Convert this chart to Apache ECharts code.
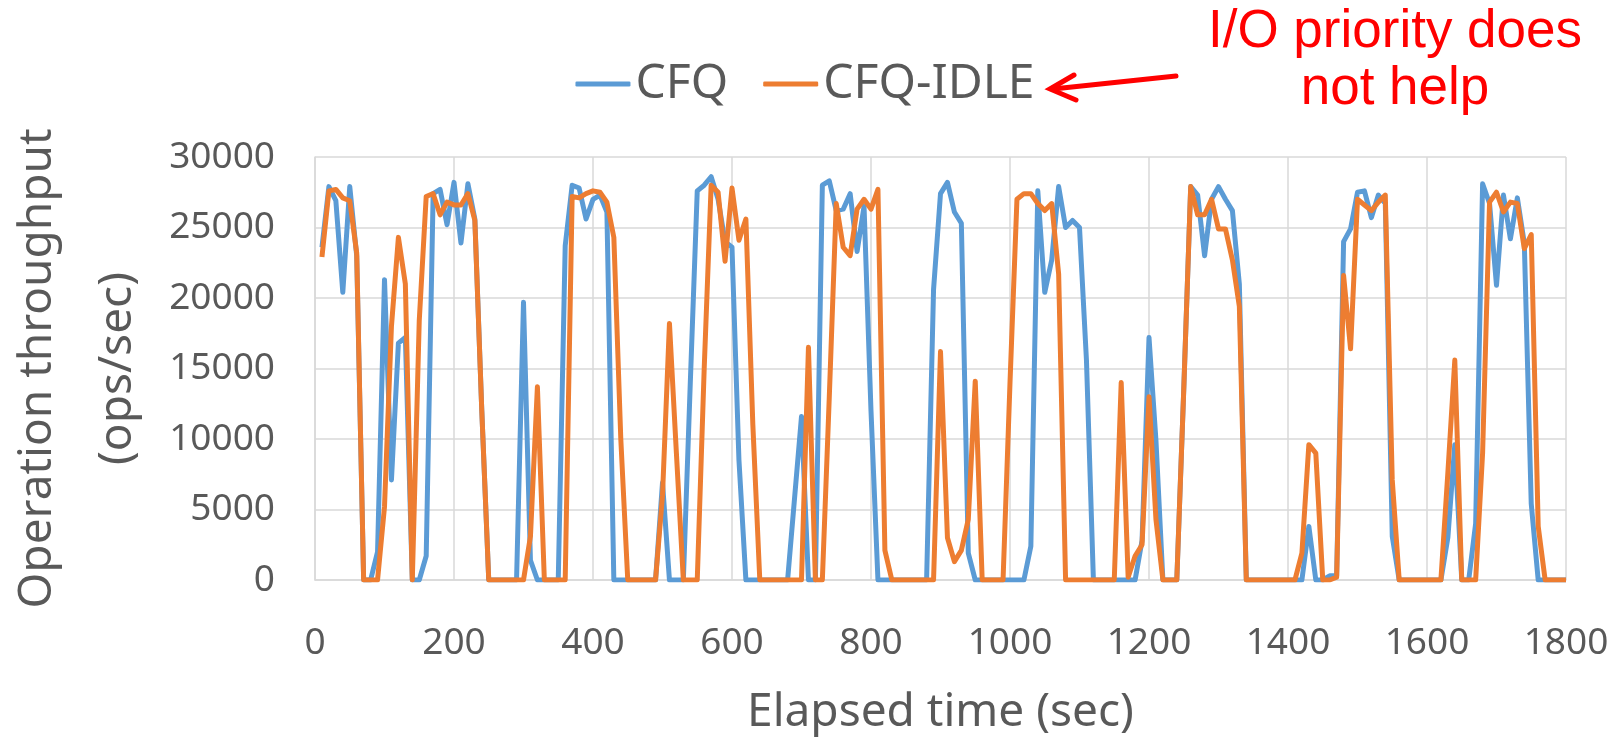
<!DOCTYPE html>
<html>
<head>
<meta charset="utf-8">
<title>CFQ vs CFQ-IDLE</title>
<script src="https://cdn.jsdelivr.net/npm/echarts@6/dist/echarts.min.js"></script>
<style>
  html, body { margin: 0; padding: 0; background: #fff; }
  #chart { width: 1610px; height: 738px; }
</style>
</head>
<body>
<div id="chart"></div>
<script>
// sample times (sec)
const times = [
  10, 20, 30, 40, 50, 60, 70, 80, 90, 100,
  110, 120, 130, 140, 150, 160, 170, 180, 190, 200,
  210, 220, 230, 240, 250, 260, 270, 280, 290, 300,
  310, 320, 330, 340, 350, 360, 370, 380, 390, 400,
  410, 420, 430, 440, 450, 460, 470, 480, 490, 500,
  510, 520, 530, 540, 550, 560, 570, 580, 590, 600,
  610, 620, 630, 640, 650, 660, 670, 680, 690, 700,
  710, 720, 730, 740, 750, 760, 770, 780, 790, 800,
  810, 820, 830, 840, 850, 860, 870, 880, 890, 900,
  910, 920, 930, 940, 950, 960, 970, 980, 990, 1000,
  1010, 1020, 1030, 1040, 1050, 1060, 1070, 1080, 1090, 1100,
  1110, 1120, 1130, 1140, 1150, 1160, 1170, 1180, 1190, 1200,
  1210, 1220, 1230, 1240, 1250, 1260, 1270, 1280, 1290, 1300,
  1310, 1320, 1330, 1340, 1350, 1360, 1370, 1380, 1390, 1400,
  1410, 1420, 1430, 1440, 1450, 1460, 1470, 1480, 1490, 1500,
  1510, 1520, 1530, 1540, 1550, 1560, 1570, 1580, 1590, 1600,
  1610, 1620, 1630, 1640, 1650, 1660, 1670, 1680, 1690, 1700,
  1710, 1720, 1730, 1740, 1750, 1760, 1770, 1780, 1790, 1800
];

// operation throughput (ops/sec)
const cfq = [
  23600, 27900, 26900, 20400, 27900, 23000, 0, 0, 2000, 21300,
  7100, 16800, 17200, 0, 0, 1700, 27400, 27700, 25200, 28200,
  23900, 28100, 25600, 12000, 0, 0, 0, 0, 0, 19700,
  1400, 0, 0, 0, 0, 23700, 28000, 27800, 25600, 27000,
  27300, 26100, 0, 0, 0, 0, 0, 0, 0, 6900,
  0, 0, 0, 14000, 27600, 28000, 28600, 27000, 24000, 23600,
  8500, 0, 0, 0, 0, 0, 0, 0, 5800, 11600,
  0, 0, 28000, 28300, 26200, 26300, 27400, 23300, 26500, 12000,
  0, 0, 0, 0, 0, 0, 0, 0, 20600, 27400,
  28200, 26100, 25300, 1900, 0, 0, 0, 0, 0, 0,
  0, 0, 2400, 27600, 20400, 22700, 27900, 25000, 25500, 25000,
  15600, 0, 0, 0, 0, 0, 0, 0, 2800, 17200,
  9900, 0, 0, 0, 13500, 27900, 27300, 23000, 27000, 27900,
  27000, 26200, 21000, 0, 0, 0, 0, 0, 0, 0,
  0, 0, 3800, 0, 0, 300, 300, 24000, 24900, 27500,
  27600, 25700, 27300, 26700, 3100, 0, 0, 0, 0, 0,
  0, 0, 3000, 9600, 0, 0, 4000, 28100, 26700, 20900,
  27300, 24200, 27100, 23900, 5400, 0, 0, 0, 0, 0
];

const cfqIdle = [
  22900, 27600, 27700, 27100, 26900, 23200, 0, 0, 0, 5200,
  18000, 24300, 21000, 0, 18400, 27200, 27400, 25900, 26800, 26600,
  26600, 27400, 25500, 12000, 0, 0, 0, 0, 0, 0,
  3100, 13700, 0, 0, 0, 0, 27200, 27100, 27400, 27600,
  27500, 26800, 24300, 10000, 0, 0, 0, 0, 0, 6000,
  18200, 9000, 0, 0, 0, 15000, 28000, 27500, 22600, 27800,
  24100, 25600, 11000, 0, 0, 0, 0, 0, 0, 0,
  16500, 0, 0, 13000, 26700, 23600, 23000, 26300, 27000, 26300,
  27700, 2100, 0, 0, 0, 0, 0, 0, 0, 16200,
  3000, 1300, 2100, 4300, 14100, 0, 0, 0, 0, 14000,
  27000, 27400, 27400, 26700, 26200, 26700, 21700, 0, 0, 0,
  0, 0, 0, 0, 0, 14000, 200, 1700, 2500, 13000,
  4300, 0, 0, 0, 13500, 27900, 25900, 25900, 27000, 24900,
  24900, 22700, 19400, 0, 0, 0, 0, 0, 0, 0,
  0, 1900, 9600, 9000, 0, 0, 200, 21600, 16400, 27000,
  26600, 26200, 26800, 27300, 7100, 0, 0, 0, 0, 0,
  0, 0, 7600, 15600, 0, 0, 0, 9000, 26800, 27500,
  26100, 26800, 26700, 23500, 24500, 3800, 0, 0, 0, 0
];

const seriesNames = ["CFQ", "CFQ-IDLE"];
const note = "I/O priority does\nnot help";

const textColor = "#595959";
const gridColor = "#D9D9D9";

const chart = echarts.init(document.getElementById("chart"), null, { renderer: "canvas" });

const option = {
  animation: false,
  color: ["#5B9BD5", "#ED7D31"],
  textStyle: { fontFamily: "Noto Sans" },
  grid: { left: 315, right: 44, top: 157, bottom: 158, outerBoundsMode: "none" },
  legend: {
    data: seriesNames,
    left: "center",
    top: 55,
    icon: "roundRect",
    itemWidth: 55,
    itemHeight: 5,
    itemGap: 35,
    textStyle: { fontSize: 48, color: textColor, fontFamily: "Noto Sans" }
  },
  xAxis: {
    type: "value",
    min: 0,
    max: 1800,
    interval: 200,
    name: "Elapsed time (sec)",
    nameLocation: "middle",
    nameGap: 110,
    nameTextStyle: { fontSize: 46, color: textColor },
    axisLine: { show: true, lineStyle: { color: gridColor, width: 1.5 } },
    axisTick: { show: false },
    axisLabel: { fontSize: 37, color: textColor, margin: 45, formatter: (v) => String(v) },
    splitLine: { show: true, lineStyle: { color: gridColor, width: 1.5 } }
  },
  yAxis: {
    type: "value",
    min: 0,
    max: 30000,
    interval: 5000,
    name: "Operation throughput\n(ops/sec)",
    nameLocation: "middle",
    nameRotate: 90,
    nameGap: 131,
    nameTextStyle: { fontSize: 46, color: textColor, lineHeight: 80 },
    axisLine: { show: true, lineStyle: { color: gridColor, width: 1.5 } },
    axisTick: { show: false },
    axisLabel: { fontSize: 37, color: textColor, margin: 40, formatter: (v) => String(v) },
    splitLine: { show: true, lineStyle: { color: gridColor, width: 1.5 } }
  },
  series: [
    {
      name: seriesNames[0],
      type: "line",
      data: times.map((t, i) => [t, cfq[i]]),
      showSymbol: false,
      lineStyle: { width: 5, join: "round" }
    },
    {
      name: seriesNames[1],
      type: "line",
      data: times.map((t, i) => [t, cfqIdle[i]]),
      showSymbol: false,
      lineStyle: { width: 5, join: "round" }
    }
  ],
  graphic: [
    {
      type: "text",
      x: 1395,
      y: 61,
      style: {
        text: note,
        fill: "#FF0000",
        font: "53px 'Liberation Sans'",
        lineHeight: 57,
        align: "center",
        verticalAlign: "middle"
      }
    },
    // arrow pointing at the legend
    {
      type: "polyline",
      shape: { points: [[1176, 76], [1053, 89]] },
      style: { stroke: "#FF0000", lineWidth: 5, lineCap: "round" }
    },
    {
      type: "polyline",
      shape: { points: [[1074, 75], [1050, 89], [1076, 100]] },
      style: { stroke: "#FF0000", lineWidth: 5, lineCap: "round", fill: null }
    }
  ]
};

chart.setOption(option);
</script>
</body>
</html>
